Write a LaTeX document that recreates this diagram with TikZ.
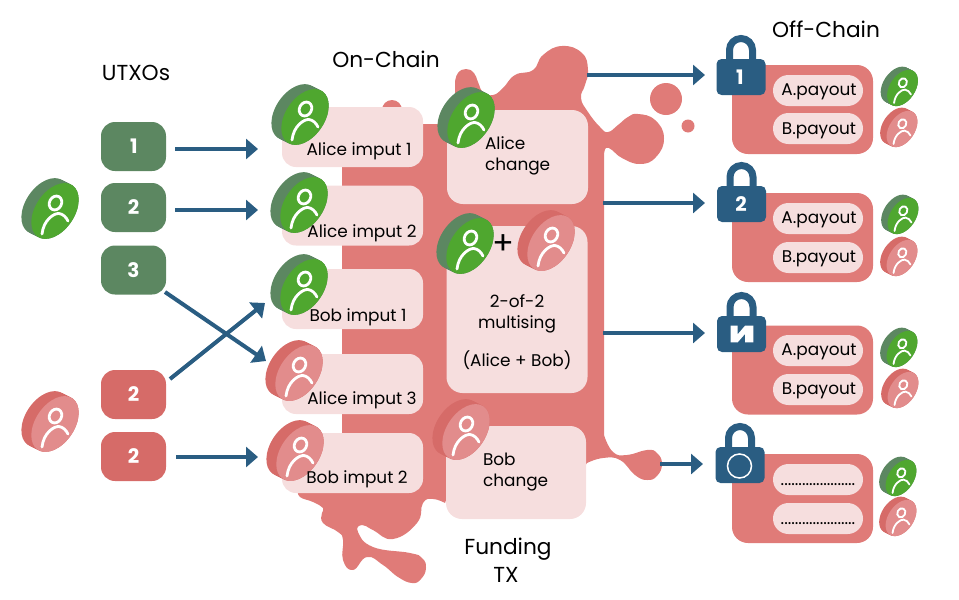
\documentclass[tikz,border=0pt]{standalone}
\usepackage{fontspec}
\setmainfont{Poppins}
\usepackage{tikz}
\usetikzlibrary{arrows.meta,positioning,calc}

\definecolor{leaf}{HTML}{4FA72F}
\definecolor{moss}{HTML}{5C8761}
\definecolor{blobred}{HTML}{E07B78}
\definecolor{brick}{HTML}{D66B68}
\definecolor{rosy}{HTML}{E28C8C}
\definecolor{pale}{HTML}{F6DEDE}
\definecolor{navy}{HTML}{2A5D82}

\newcommand{\coin}[5]{% scale, x, y, side colour, face colour
  \begin{scope}[shift={(#2,#3)}, scale=#1]
    \foreach \s in {0,0.1,...,1}
      \fill[#4] (-11*\s,-5.5*\s) ellipse[x radius=31pt, y radius=19.5pt, rotate=56];
    \fill[#5] (0,0) ellipse[x radius=31pt, y radius=19.5pt, rotate=56];
    \draw[white, line width=2.8pt*#1] (0.5,-8) ellipse[x radius=7.2pt, y radius=6pt, rotate=62];
    \draw[white, line width=2.8pt*#1, line cap=round] (-13,23) .. controls (-11.5,9) and (-1,2) .. (4,2.5) .. controls (8,3) and (11,6) .. (13,10);
  \end{scope}}
\newcommand{\alice}[3]{\coin{#1}{#2}{#3}{moss}{leaf}}
\newcommand{\bob}[3]{\coin{#1}{#2}{#3}{brick}{rosy}}
\newcommand{\padlock}[2]{% x, y of the body centre
  \draw[navy, line width=7pt] (#1-11.5,#2-14) -- (#1-11.5,#2-27) arc[start angle=180, end angle=0, radius=11.5pt] -- (#1+11.5,#2-14);
  \fill[navy, rounded corners=5pt] (#1-24.5,#2-18) rectangle (#1+24.5,#2+18);}

\begin{document}
\begin{tikzpicture}[
  x=1pt, y=-1pt,
  every node/.style={inner sep=0pt, outer sep=0pt, text=black},
  base/.style={font=\fontsize{16.9}{21}\selectfont},
  title/.style={font=\fontsize{21.7}{28}\selectfont, align=center},
  utxo/.style={rounded corners=14pt, minimum width=65pt, minimum height=49pt, text=white, font=\fontsize{20}{24}\selectfont\bfseries},
  inbox/.style={fill=pale, rounded corners=14pt, minimum width=141pt, minimum height=60pt},
  outbox/.style={fill=pale, rounded corners=16pt, minimum width=141pt},
  chan/.style={fill=blobred, rounded corners=16pt, minimum width=141pt, minimum height=89pt},
  pill/.style={fill=pale, rounded corners=15.5pt, minimum width=90pt, minimum height=31pt, base},
  arr/.style={navy, line width=4pt, -{Triangle[length=12pt, width=20pt]}},
  locktag/.style={text=white, font=\fontsize{20}{24}\selectfont\bfseries}
]
\useasboundingbox (0,0) rectangle (959,600);

% blob behind the funding tx
\fill[blobred] (342,480) -- (342,124) -- (445,124) -- (455,110)
  -- plot[smooth, tension=.8] coordinates {(455,82) (458,73) (466,69) (474,73) (478,82) (483,92) (493,95) (503,88) (515,75) (533,70) (543,55) (562,46) (582,53) (588,70) (585,85) (581,98) (588,112) (600,127) (608,132) (618,125) (628,117) (638,114) (655,120) (664,138) (656,157) (640,164) (622,158) (612,150) (606,148) (604,155)}
  -- (604,435)
  -- plot[smooth, tension=.8] coordinates {(604,435) (613,452) (627,455) (647,450) (657,453) (662,464) (657,476) (647,480) (635,475) (620,460) (603,458) (587,463)}
  -- (560,500) -- (446,500)
  -- plot[smooth, tension=.8] coordinates {(445,503) (433,499) (423,503) (417,523) (393,539) (373,530) (362,525) (358,532) (373,547) (410,553) (422,558) (426,568) (421,579) (412,583) (398,577) (383,565) (367,557) (353,570) (343,560) (343,540) (338,532) (323,523) (322,513) (323,508) (313,502) (300,497) (298,490)}
  -- cycle;
\fill[blobred] (392,110) circle[radius=10pt];
\fill[blobred] (666,99) circle[radius=16pt];
\fill[blobred] (688,126) circle[radius=6.5pt];

% utxos
\node[utxo, fill=moss] (u1) at (133.5,146.5) {\hspace{1pt}1};
\node[utxo, fill=moss] (u2) at (133.5,207.5) {2};
\node[utxo, fill=moss] (u3) at (133.5,270) {3};
\node[utxo, fill=brick] (u4) at (133.5,394.5) {2};
\node[utxo, fill=brick] (u5) at (133.5,456.5) {2};

% inputs
\node[inbox] (in1) at (352.5,137) {};
\node[inbox] (in2) at (352.5,215.5) {};
\node[inbox] (in3) at (352.5,299) {};
\node[inbox] (in4) at (352.5,384) {};
\node[inbox] (in5) at (352.5,463) {};

% outputs
\node[outbox, minimum height=94pt] (alch) at (517.5,157) {};
\node[outbox, minimum height=167pt] (msig) at (517,309.5) {};
\node[outbox, minimum height=93pt, minimum width=140pt] (bobch) at (516,472.5) {};

% off chain
\node[chan] (c1) at (802.5,109.5) {};
\node[chan] (c2) at (802.5,237.5) {};
\node[chan] (c3) at (802.5,370) {};
\node[chan] (c4) at (802.5,498.5) {};

\node[pill] (a1) at (818,90.5) {};
\node[pill] (b1) at (818,128.5) {};
\node[pill] (a2) at (818,218.5) {};
\node[pill] (b2) at (818,257.5) {};
\node[pill] (a3) at (818,350.5) {};
\node[pill] (b3) at (818,389.5) {};
\node[pill] (a4) at (818,479.5) {};
\node[pill] (b4) at (818,518.5) {};
\node[base, anchor=base] (a1t) at (819,95) {A.payout};
\node[base, anchor=base] (b1t) at (819,134) {B.payout};
\node[base, anchor=base] (a2t) at (819,223) {A.payout};
\node[base, anchor=base] (b2t) at (819,262) {B.payout};
\node[base, anchor=base] (a3t) at (819,355) {A.payout};
\node[base, anchor=base] (b3t) at (819,394) {B.payout};
\node[base, anchor=base] (a4t) at (818,485) {.....................};
\node[base, anchor=base] (b4t) at (818,524) {.....................};

% arrows
\draw[arr] ([shift={(9,2.5)}]u1.east) -- ([shift={(-24,12)}]in1.west);
\draw[arr] ([shift={(9,2.5)}]u2.east) -- ([shift={(-24,-5.5)}]in2.west);
\draw[arr] ([shift={(-1,22)}]u3.east) -- ([shift={(-16,-23)}]in4.west);
\draw[arr] ([shift={(4,-15.5)}]u4.east) -- ([shift={(-17,4)}]in3.west);
\draw[arr] ([shift={(10,0.5)}]u5.east) -- ([shift={(-24,-6)}]in5.west);
\draw[arr] ([shift={(-1,-82)}]alch.east) -- ([shift={(-27,-34.5)}]c1.west);
\draw[arr] ([shift={(15,46)}]alch.east) -- ([shift={(-27,-34.5)}]c2.west);
\draw[arr] ([shift={(15.5,23.5)}]msig.east) -- ([shift={(-27,-37)}]c3.west);
\draw[arr] ([shift={(74,-8.5)}]bobch.east) -- ([shift={(-29,-34.5)}]c4.west);

% coins
\alice{1}{55}{211}
\bob{1}{55}{424}
\alice{1}{305}{117}
\alice{1}{304}{205}
\alice{1}{304}{287}
\bob{1}{299}{373}
\bob{1}{300}{453}
\alice{1}{471}{120}
\alice{1}{470}{246}
\bob{1}{551}{243}
\bob{1}{466}{432}
\alice{.65}{902.5}{88}
\bob{.65}{902}{129}
\alice{.65}{903}{216}
\bob{.65}{902}{258}
\alice{.65}{902}{349}
\bob{.65}{903}{390}
\alice{.65}{901}{478}
\bob{.65}{901}{518}

% locks
\padlock{741}{77}
\padlock{741.5}{204}
\padlock{741.5}{334}
\padlock{740}{465}
\node[locktag] (l1) at (740,77) {1};
\node[locktag] (l2) at (741,204) {2};
\fill[white] (730.7,325.7) -- (737.7,325.7) -- (737.7,334.3) -- (745,325.7) -- (753.3,325.7) -- (753.3,342.3) -- (745,342.3) -- (745,334) -- (737.7,342.3) -- (730.7,342.3) -- cycle;
\draw[white, line width=1.5pt] (739.5,466) circle[radius=12pt];

% labels
\node[title, anchor=base] (utxos) at (136,80) {UTXOs};
\node[title, anchor=base] (onch) at (386,67.5) {On-Chain};
\node[title, anchor=base] (offch) at (826,37) {Off-Chain};
\node[title, anchor=base] (fund) at (508,554) {Funding};
\node[title, anchor=base] (tx) at (506,582) {TX};

\node[base, anchor=base] (t1) at (359,155) {Alice imput 1};
\node[base, anchor=base] (t2) at (362,237) {Alice imput 2};
\node[base, anchor=base] (t3) at (358,321) {Bob imput 1};
\node[base, anchor=base] (t4) at (362,404) {Alice imput 3};
\node[base, anchor=base] (t5) at (357,483) {Bob imput 2};
\node[base, anchor=west, align=left] (t6) at (485,156) {Alice\\change};
\node[base, anchor=west, align=left] (t7) at (483,472) {Bob\\change};
\node[base, align=center] (t8) at (517,332) {2-of-2\\multising\\[17pt](Alice + Bob)};
\node[font=\fontsize{32}{32}\selectfont] (plus) at (503,245) {+};
\end{tikzpicture}
\end{document}
